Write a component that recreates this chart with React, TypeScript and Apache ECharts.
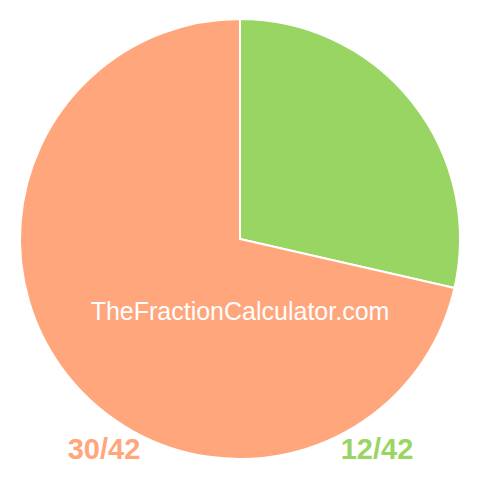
import React, { useEffect, useRef } from "react";
import * as echarts from "echarts";

const labels = ["12/42", "30/42"];
const values = [12, 30];
const colors = ["#99D563", "#FFA67C"];
const watermark = "TheFractionCalculator.com";

const App = () => {
  const chartRef = useRef<HTMLDivElement>(null);

  useEffect(() => {
    document.body.style.margin = "0";
    if (!chartRef.current) return;
    const chart = echarts.init(chartRef.current, null, { renderer: "svg" });

    const options = {
      animation: false,
      series: [
        {
          type: "pie",
          center: [240, 239],
          radius: 220,
          startAngle: 90,
          clockwise: true,
          label: { show: false },
          labelLine: { show: false },
          emphasis: { disabled: true },
          itemStyle: { borderColor: "#ffffff", borderWidth: 2 },
          data: values.map((v, i) => ({
            value: v,
            name: labels[i],
            itemStyle: { color: colors[i] },
          })),
        },
      ],
      graphic: [
        {
          type: "text",
          x: 240,
          y: 311,
          z: 100,
          style: {
            text: watermark,
            fill: "#ffffff",
            font: '25px "Liberation Sans", Arial, sans-serif',
            align: "center",
            verticalAlign: "middle",
          },
        },
        {
          type: "text",
          x: 104,
          y: 449,
          z: 100,
          style: {
            text: labels[1],
            fill: colors[1],
            font: 'bold 29px "Liberation Sans", Arial, sans-serif',
            align: "center",
            verticalAlign: "middle",
          },
        },
        {
          type: "text",
          x: 377,
          y: 449,
          z: 100,
          style: {
            text: labels[0],
            fill: colors[0],
            font: 'bold 29px "Liberation Sans", Arial, sans-serif',
            align: "center",
            verticalAlign: "middle",
          },
        },
      ],
    };

    chart.setOption(options);
    return () => chart.dispose();
  }, []);

  return <div ref={chartRef} style={{ width: "480px", height: "480px" }} />;
};

export default App;
